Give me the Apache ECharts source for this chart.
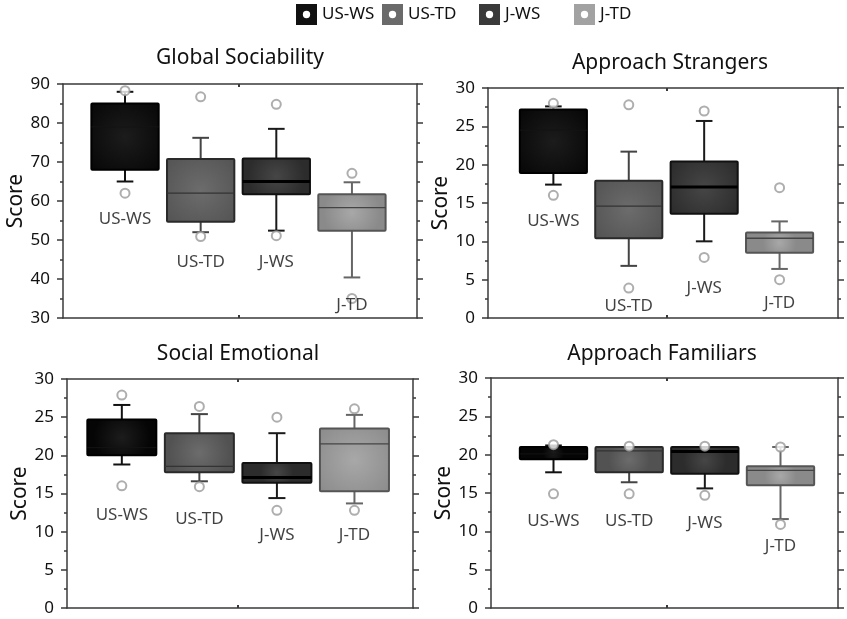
<!DOCTYPE html>
<html><head><meta charset="utf-8">
<script src="https://cdn.jsdelivr.net/npm/echarts@6/dist/echarts.min.js"></script>
<style>html,body{margin:0;padding:0;background:#fff}#c{width:847px;height:619px}</style>
</head><body><div id="c"></div>
<script>
// ---------------- DATA ----------------
const groups = ['US-WS', 'US-TD', 'J-WS', 'J-TD'];
const panelTitles = ['Global Sociability', 'Approach Strangers', 'Social Emotional', 'Approach Familiars'];
const yAxisName = 'Score';
// y-axis ranges per panel: [min, max, interval]
const yRanges = [[30, 90, 10], [0, 30, 5], [0, 30, 5], [0, 30, 5]];

// box stats per group: [min whisker, Q1, median, Q3, max whisker]
const globalSociabilityBoxes = [[65, 68, 79, 85, 88], [52, 54.7, 62, 70.8, 76.2], [52.4, 61.7, 65, 70.9, 78.5], [40.4, 52.4, 58.3, 61.7, 64.8]];
const globalSociabilityOutliers = [[88.3, 62], [86.7, 50.9], [84.8, 51.1], [67.1, 35]];
const globalSociabilityLabelY = [55.4, 44.2, 44.2, 33.3];

const approachStrangersBoxes = [[17.4, 18.9, 24.5, 27.2, 27.6], [6.8, 10.4, 14.6, 17.9, 21.7], [10.0, 13.6, 17.1, 20.4, 25.7], [6.4, 8.5, 10.4, 11.15, 12.6]];
const approachStrangersOutliers = [[28, 16], [27.8, 3.9], [27, 7.9], [17, 5]];
const approachStrangersLabelY = [12.6, 1.5, 3.9, 2.0];

const socialEmotionalBoxes = [[18.8, 20, 21, 24.7, 26.6], [16.6, 17.8, 18.55, 22.9, 25.4], [14.4, 16.4, 17.1, 19.0, 22.9], [13.7, 15.3, 21.5, 23.5, 25.3]];
const socialEmotionalOutliers = [[27.9, 16], [26.4, 15.9], [25, 12.8], [26.1, 12.8]];
const socialEmotionalLabelY = [12.2, 11.7, 9.6, 9.6];

const approachFamiliarsBoxes = [[17.7, 19.4, 20.1, 21.0, 21.2], [16.4, 17.7, 20.5, 21.0, 21.0], [15.6, 17.5, 20.4, 21.0, 21.0], [11.6, 16.0, 17.95, 18.5, 21.0]];
const approachFamiliarsOutliers = [[21.3, 14.9], [21.1, 14.9], [21.1, 14.7], [21, 10.9]];
const approachFamiliarsLabelY = [11.3, 11.3, 11.1, 8.1];

const panelBoxes = [globalSociabilityBoxes, approachStrangersBoxes, socialEmotionalBoxes, approachFamiliarsBoxes];
const panelOutliers = [globalSociabilityOutliers, approachStrangersOutliers, socialEmotionalOutliers, approachFamiliarsOutliers];
const panelLabelY = [globalSociabilityLabelY, approachStrangersLabelY, socialEmotionalLabelY, approachFamiliarsLabelY];

// ---------------- LAYOUT / STYLE ----------------
const FONT = 'Noto Sans';
const layouts = [
  {left: 63, top: 84, width: 354, height: 234, xMin: 0.18, xMax: 4.86, tx: 240, ty: 47},
  {left: 488, top: 88, width: 350, height: 230, xMin: 0.133, xMax: 4.775, tx: 670, ty: 52},
  {left: 67, top: 379, width: 346, height: 229, xMin: 0.293, xMax: 4.755, tx: 238, ty: 343},
  {left: 491, top: 378, width: 347, height: 230, xMin: 0.174, xMax: 4.76, tx: 662, ty: 343}
];
const legendLefts = [296, 382, 479, 574];
const groupStyles = [
  {fill: ['#1c1c1c', '#050505'], border: '#000', whisker: '#111', median: '#141414', medianWidth: 1},
  {fill: ['#6c6c6c', '#525252'], border: '#2a2a2a', whisker: '#444', median: '#333', medianWidth: 1.3},
  {fill: ['#464646', '#2c2c2c'], border: '#111', whisker: '#1a1a1a', median: '#000', medianWidth: 3},
  {fill: ['#a8a8a8', '#8a8a8a'], border: '#555', whisker: '#666', median: '#444', medianWidth: 1.3}
];
const legendColors = ['#111111', '#6a6a6a', '#3a3a3a', '#a2a2a2'];
const AXIS_COLOR = '#3a3a3a';
const ICON = 'path://M0,0H20V20H0Z M10,6.5A3.5,3.5 0 1,0 10,13.5A3.5,3.5 0 1,0 10,6.5Z';

function renderBox(st) {
  return function (params, api) {
    const x = api.value(0);
    const lo = api.coord([x, api.value(1)]);
    const q1 = api.coord([x, api.value(2)]);
    const md = api.coord([x, api.value(3)]);
    const q3 = api.coord([x, api.value(4)]);
    const hi = api.coord([x, api.value(5)]);
    const unit = api.size([1, 0])[0];
    const bw = unit * 0.89, hw = bw / 2, cw = unit * 0.11;
    const cx = lo[0];
    const ws = {stroke: st.whisker, lineWidth: 2};
    return {
      type: 'group',
      children: [
        {type: 'line', shape: {x1: cx, y1: hi[1], x2: cx, y2: q3[1]}, style: ws},
        {type: 'line', shape: {x1: cx - cw, y1: hi[1], x2: cx + cw, y2: hi[1]}, style: ws},
        {type: 'line', shape: {x1: cx, y1: lo[1], x2: cx, y2: q1[1]}, style: ws},
        {type: 'line', shape: {x1: cx - cw, y1: lo[1], x2: cx + cw, y2: lo[1]}, style: ws},
        {type: 'rect', shape: {x: cx - hw, y: q3[1], width: bw, height: q1[1] - q3[1], r: 1},
          style: {fill: new echarts.graphic.RadialGradient(0.5, 0.5, 0.75, [{offset: 0, color: st.fill[0]}, {offset: 1, color: st.fill[1]}]),
            stroke: st.border, lineWidth: 2}},
        {type: 'line', shape: {x1: cx - hw, y1: md[1], x2: cx + hw, y2: md[1]}, style: {stroke: st.median, lineWidth: st.medianWidth}}
      ]
    };
  };
}

const grid = [], xAxis = [], yAxis = [], title = [], series = [];
layouts.forEach((L, i) => {
  grid.push({left: L.left, top: L.top, width: L.width, height: L.height});
  title.push({text: panelTitles[i], left: L.tx, top: L.ty + 1, textAlign: 'center', padding: 0,
    textStyle: {fontFamily: FONT, fontSize: 21, fontWeight: 'normal', color: '#111'}});
  const lineStyle = {color: AXIS_COLOR, width: 1.5};
  ['bottom', 'top'].forEach(pos => {
    xAxis.push({gridIndex: i, type: 'value', position: pos, min: L.xMin, max: L.xMax,
      axisLine: {show: true, onZero: false, lineStyle},
      axisTick: {show: true, customValues: [2.5], inside: true, length: 3, lineStyle: {color: AXIS_COLOR, width: 2}},
      axisLabel: {show: false}, splitLine: {show: false}});
  });
  const [ymin, ymax, yint] = yRanges[i];
  yAxis.push({gridIndex: i, type: 'value', position: 'left', min: ymin, max: ymax, interval: yint,
    name: yAxisName, nameLocation: 'middle', nameGap: 36,
    nameTextStyle: {fontFamily: FONT, fontSize: 21, color: '#111'},
    axisLine: {show: true, onZero: false, lineStyle},
    axisTick: {show: true, length: 6, lineStyle: {color: AXIS_COLOR, width: 1.5}},
    minorTick: {show: true, splitNumber: 2, length: 3, lineStyle: {color: AXIS_COLOR, width: 1.5}},
    axisLabel: {fontFamily: FONT, fontSize: 17, margin: 13, color: '#111'},
    splitLine: {show: false}});
  yAxis.push({gridIndex: i, type: 'value', position: 'right', min: ymin, max: ymax, interval: yint,
    axisLine: {show: true, onZero: false, lineStyle},
    axisTick: {show: true, length: 6, lineStyle: {color: AXIS_COLOR, width: 1.5}},
    minorTick: {show: true, splitNumber: 2, length: 3, lineStyle: {color: AXIS_COLOR, width: 1.5}},
    axisLabel: {show: false}, splitLine: {show: false}});

  panelBoxes[i].forEach((b, g) => {
    series.push({type: 'custom', name: groups[g], xAxisIndex: 2 * i, yAxisIndex: 2 * i, clip: false,
      renderItem: renderBox(groupStyles[g]), data: [[g + 1].concat(b)], z: 2});
  });
  const outl = [];
  panelOutliers[i].forEach((arr, g) => arr.forEach(v => outl.push([g + 1, v])));
  series.push({type: 'scatter', xAxisIndex: 2 * i, yAxisIndex: 2 * i, data: outl, symbol: 'circle', symbolSize: 9,
    itemStyle: {color: '#fff', borderColor: '#9a9a9a', borderWidth: 2}, z: 5, silent: true, clip: false});
  series.push({type: 'scatter', xAxisIndex: 2 * i, yAxisIndex: 2 * i, symbolSize: 1,
    itemStyle: {color: 'rgba(0,0,0,0)'}, z: 6, silent: true, clip: false,
    data: panelLabelY[i].map((y, g) => ({name: groups[g], value: [g + 1, y]})),
    label: {show: true, position: 'inside', formatter: '{b}', fontFamily: FONT, fontSize: 17, color: '#111'}});
});

const legend = groups.map((g, k) => ({
  data: [{name: g, icon: ICON, itemStyle: {color: legendColors[k]}}],
  left: legendLefts[k], top: 4, itemWidth: 21, itemHeight: 21, itemGap: 5, padding: 0, selectedMode: false,
  textStyle: {fontFamily: FONT, fontSize: 17, color: '#111'}
}));

const option = {
  animation: false,
  backgroundColor: '#fff',
  title, grid, xAxis, yAxis, series, legend
};
const chart = echarts.init(document.getElementById('c'));
chart.setOption(option);
</script></body></html>
